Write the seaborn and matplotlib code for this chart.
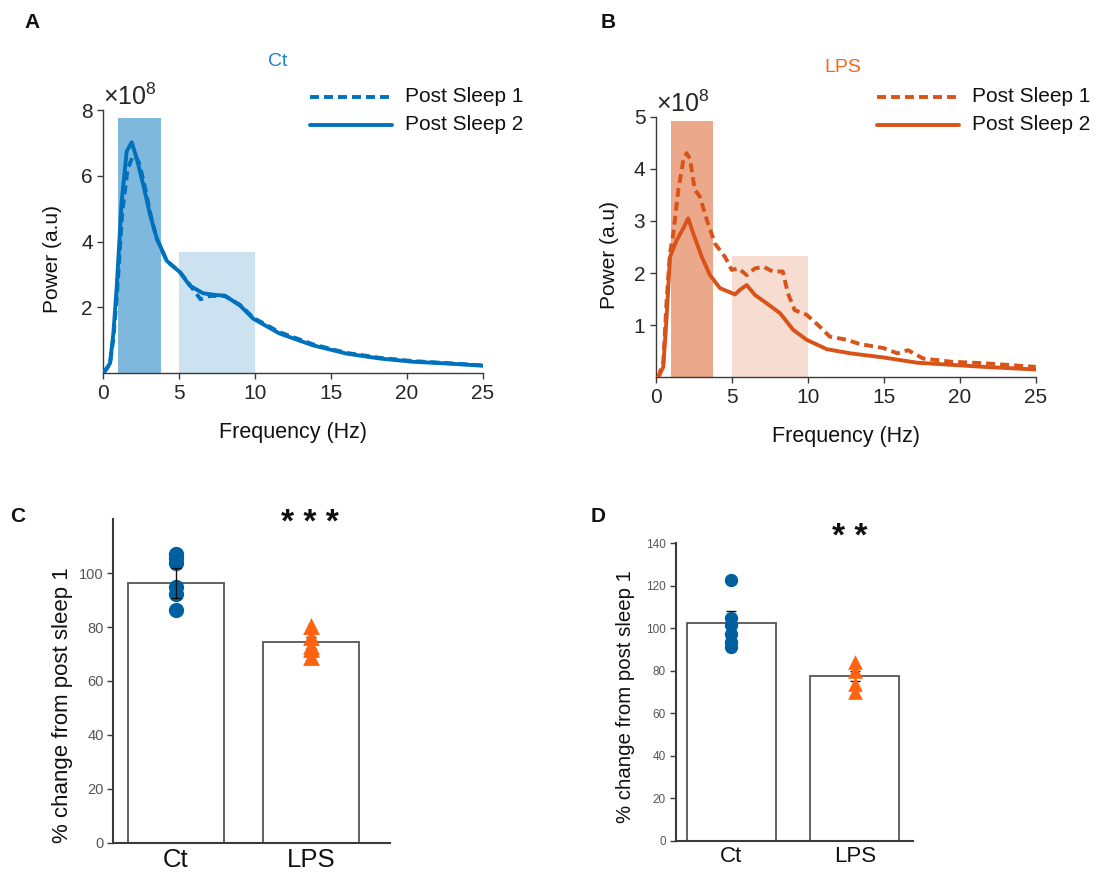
import numpy as np
import pandas as pd
import matplotlib
matplotlib.use("Agg")
import matplotlib.pyplot as plt
import seaborn as sns

# ---------------- data ----------------
# Power spectra (units of 1e8), Control
ct_ps1_freq = [0.0, 0.44, 0.66, 0.9, 1.25, 1.6, 1.9, 2.1, 2.35, 2.7, 3.1, 3.5, 4.0, 4.2, 5.0,
               5.6, 6.0, 6.4, 7.0, 8.0, 9.0, 9.9, 11.6, 13.8, 16.0, 18.2, 20.4, 22.6, 25.0]
ct_ps1_pow = [0.0, 0.28, 1.05, 2.4, 4.9, 6.2, 6.55, 6.6, 6.4, 5.75, 4.85, 4.1, 3.6, 3.4, 3.1,
              2.75, 2.5, 2.25, 2.35, 2.35, 2.08, 1.68, 1.25, 0.88, 0.62, 0.47, 0.37, 0.31, 0.24]
ct_ps2_freq = [0.0, 0.44, 0.66, 0.88, 1.21, 1.54, 1.87, 2.2, 2.63, 3.07, 3.51, 4.17, 5.05,
               5.7, 6.58, 7.4, 8.0, 9.0, 9.87, 11.6, 13.8, 16.0, 18.2, 20.4, 22.6, 25.0]
ct_ps2_pow = [0.0, 0.3, 1.2, 2.6, 5.23, 6.74, 7.02, 6.53, 5.73, 4.83, 4.12, 3.42, 3.07,
              2.66, 2.43, 2.38, 2.36, 2.06, 1.66, 1.21, 0.85, 0.6, 0.45, 0.35, 0.30, 0.23]

# Power spectra (units of 1e8), LPS
lps_ps1_freq = [0.17, 0.5, 0.72, 0.94, 1.16, 1.49, 1.82, 2.03, 2.25, 2.57, 2.9, 3.36, 3.91,
                4.56, 5.0, 5.44, 5.99, 6.53, 7.1, 7.7, 8.36, 8.7, 9.14, 9.93, 10.8, 11.45,
                12.57, 13.4, 15.0, 15.9, 16.6, 17.6, 19.4, 21.6, 25.0]
lps_ps1_pow = [0.0, 0.3, 1.48, 2.38, 2.76, 3.6, 4.17, 4.3, 4.2, 3.6, 3.47, 3.02, 2.56,
               2.31, 2.06, 2.09, 1.96, 2.09, 2.12, 2.03, 2.03, 1.61, 1.29, 1.2, 0.97, 0.78,
               0.72, 0.64, 0.56, 0.46, 0.52, 0.36, 0.30, 0.27, 0.2]
lps_ps2_freq = [0.17, 0.5, 0.72, 0.94, 1.38, 1.82, 2.14, 2.47, 3.03, 3.57, 4.23, 5.22, 5.55,
                5.99, 6.53, 7.3, 8.18, 9.05, 9.93, 11.25, 12.8, 15.0, 17.2, 19.4, 21.6, 25.0]
lps_ps2_pow = [0.0, 0.2, 1.16, 2.31, 2.63, 2.86, 3.05, 2.76, 2.31, 1.96, 1.71, 1.59, 1.68,
               1.77, 1.58, 1.42, 1.23, 0.91, 0.72, 0.54, 0.46, 0.38, 0.28, 0.24, 0.2, 0.15]

# Frequency bands highlighted (Hz) and their heights (units of 1e8)
band_edges = [(1.0, 3.8), (5.0, 10.0)]
ct_band_heights = [7.75, 3.7]
lps_band_heights = [4.92, 2.33]

# Percent change from post sleep 1 (panel C)
groups = ["Ct", "LPS"]
c_means = [96.3, 74.3]
c_sem = [5.5, 2.0]
c_ct_points = [107.3, 105.5, 103.8, 94.8, 92.3, 86.2]
c_lps_points = [80.5, 76.5, 73.0, 72.0, 69.0]

# Percent change from post sleep 1 (panel D)
d_means = [102.4, 77.5]
d_sem = [5.7, 2.5]
d_ct_points = [122.5, 104.7, 101.5, 97.5, 93.4, 91.0]
d_lps_points = [84.0, 80.0, 74.0, 70.0]

# ---------------- style ----------------
sns.set_style("ticks")
plt.rcParams["font.family"] = ["Liberation Sans", "DejaVu Sans"]
plt.rcParams["mathtext.fontset"] = "custom"
plt.rcParams["mathtext.rm"] = "Liberation Sans"

BLUE = "#0072BD"
ORANGE = "#D95319"
DOT_BLUE = "#00609F"
TRI_ORANGE = "#FF6310"
AX_GRAY = "#3a3a3a"

fig = plt.figure(figsize=(10.97, 8.75), dpi=100)
W, H = 1097, 875


def px_axes(left, right, top, bottom):
    return fig.add_axes([left / W, 1 - bottom / H, (right - left) / W, (bottom - top) / H])


def spectrum_panel(ax, ps1f, ps1p, ps2f, ps2p, color, band_heights, ymax, yticks, ylab_xy):
    df = pd.concat([
        pd.DataFrame({"Frequency": ps1f, "Power": ps1p, "Sleep": "Post Sleep 1"}),
        pd.DataFrame({"Frequency": ps2f, "Power": ps2p, "Sleep": "Post Sleep 2"}),
    ], ignore_index=True)
    for (lo, hi), h, a in zip(band_edges, band_heights, [0.5, 0.2]):
        ax.bar(lo, h, width=hi - lo, align="edge", color=color, alpha=a,
               linewidth=0, zorder=1)
    sns.lineplot(data=df, x="Frequency", y="Power", style="Sleep",
                 dashes={"Post Sleep 1": (2.3, 1.3), "Post Sleep 2": ""},
                 color=color, linewidth=2.8, ax=ax, zorder=3, legend=False)
    ax.set_xlim(0, 25)
    ax.set_ylim(0, ymax)
    ax.set_xticks([0, 5, 10, 15, 20, 25])
    ax.set_yticks(yticks)
    ax.set_yticklabels([str(t) for t in yticks])
    ax.set_xlabel("Frequency (Hz)", fontsize=15.5, color="#111", labelpad=14)
    ax.set_ylabel("Power (a.u)", fontsize=15, color="#111")
    ax.yaxis.set_label_coords(*ylab_xy)
    ax.tick_params(axis="both", labelsize=15, colors="#262626", length=4, width=1,
                   direction="out", color=AX_GRAY)
    for s in ["top", "right"]:
        ax.spines[s].set_visible(False)
    for s in ["left", "bottom"]:
        ax.spines[s].set_color(AX_GRAY)
        ax.spines[s].set_linewidth(1.0)
    ax.text(0.0, 1.0, r"$\times10^{8}$", transform=ax.transAxes, fontsize=18,
            color="#262626", ha="left", va="bottom")


def legend_block(x0, y0, color):
    # Two-entry legend drawn in figure pixel coordinates
    for i, (label, ls) in enumerate([("Post Sleep 1", (0, (2.3, 1.3))), ("Post Sleep 2", "-")]):
        y = y0 + i * 28
        fig.add_artist(plt.Line2D([x0 / W, (x0 + 82) / W], [1 - y / H, 1 - y / H],
                                  color=color, linewidth=2.8, linestyle=ls,
                                  transform=fig.transFigure))
        fig.text((x0 + 95) / W, 1 - y / H, label, fontsize=15, color="#111",
                 ha="left", va="center")


# ---------- Panel A ----------
axA = px_axes(103.3, 483.0, 110.0, 373.3)
spectrum_panel(axA, ct_ps1_freq, ct_ps1_pow, ct_ps2_freq, ct_ps2_pow, BLUE,
               ct_band_heights, 8, [2, 4, 6, 8], (-0.11, 0.435))
legend_block(310, 97, BLUE)
fig.text(278 / W, 1 - 62 / H, "Ct", fontsize=14, color="#1F82C4", ha="center", va="center")

# ---------- Panel B ----------
axB = px_axes(655.7, 1035.7, 116.7, 377.3)
spectrum_panel(axB, lps_ps1_freq, lps_ps1_pow, lps_ps2_freq, lps_ps2_pow, ORANGE,
               lps_band_heights, 5, [1, 2, 3, 4, 5], (-0.097, 0.47))
legend_block(877, 97, ORANGE)
fig.text(843 / W, 1 - 68 / H, "LPS", fontsize=14, color="#F06A23", ha="center", va="center")


# ---------- Bar panels ----------
def bar_panel(ax, means, sems, ct_pts, lps_pts, ymax, yticks, xlim, bar_w,
              ylab_size, xlab_size, tick_size, ms, err_z, ylab_xy):
    bars = pd.DataFrame({"group": groups, "mean": means})
    sns.barplot(data=bars, x="group", y="mean", order=groups, width=bar_w,
                color="white", edgecolor="#555555", linewidth=1.3, ax=ax,
                errorbar=None, zorder=1)
    pts_ct = pd.DataFrame({"group": "Ct", "value": ct_pts})
    pts_lps = pd.DataFrame({"group": "LPS", "value": lps_pts})
    sns.stripplot(data=pts_ct, x="group", y="value", order=groups, jitter=False,
                  marker="o", color=DOT_BLUE, size=ms, linewidth=0, ax=ax)
    sns.stripplot(data=pts_lps, x="group", y="value", order=groups, jitter=False,
                  marker="^", color=TRI_ORANGE, size=ms * 1.1, linewidth=0, ax=ax)
    for coll in ax.collections:
        coll.set_zorder(3)
    for i in range(2):
        ax.errorbar([i], [means[i]], yerr=[sems[i]], fmt="none", ecolor="#111",
                    elinewidth=1.0, capsize=3.5, capthick=1.0, zorder=err_z[i])
    ax.set_xlim(*xlim)
    ax.set_ylim(0, ymax)
    ax.set_yticks(yticks)
    ax.set_xlabel("")
    ax.set_ylabel("% change from post sleep 1", fontsize=ylab_size, color="#111")
    ax.yaxis.set_label_coords(*ylab_xy)
    ax.tick_params(axis="y", labelsize=tick_size, colors="#555555", length=4, width=1,
                   color=AX_GRAY, direction="out", pad=3)
    ax.tick_params(axis="x", labelsize=xlab_size, colors="#111", length=0, pad=4)
    for s in ["top", "right"]:
        ax.spines[s].set_visible(False)
    for s in ["left", "bottom"]:
        ax.spines[s].set_color(AX_GRAY)
        ax.spines[s].set_linewidth(1.5)


axC = px_axes(113.3, 390.0, 519.3, 842.7)
bar_panel(axC, c_means, c_sem, c_ct_points, c_lps_points, 120, [0, 20, 40, 60, 80, 100],
          (-0.46, 1.58), 0.71, 16, 18.5, 10.5, 11, (4, 2), (-0.146, 0.425))
fig.text(310 / W, 1 - 524 / H, "* * *", fontsize=24, color="#111", ha="center",
         va="center", fontweight="bold")

axD = px_axes(675.7, 913.0, 543.3, 840.7)
bar_panel(axD, d_means, d_sem, d_ct_points, d_lps_points, 140,
          [0, 20, 40, 60, 80, 100, 120, 140], (-0.45, 1.47), 0.72, 14.7, 16, 8.5, 9.6,
          (2, 2), (-0.17, 0.485))
fig.text(850 / W, 1 - 538 / H, "* *", fontsize=24, color="#111", ha="center",
         va="center", fontweight="bold")

# ---------- Panel letters ----------
for letter, x, y in [("A", 32, 22), ("B", 608, 22), ("C", 18, 516), ("D", 598, 516)]:
    fig.text(x / W, 1 - y / H, letter, fontsize=15, fontweight="bold", color="#111",
             ha="center", va="center")

fig.savefig("out.png", dpi=100, facecolor="white")
